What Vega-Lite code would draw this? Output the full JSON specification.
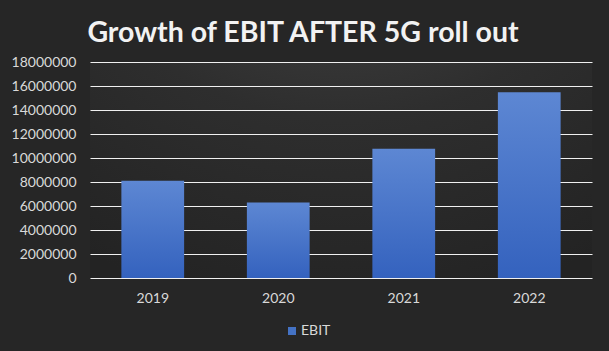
{
  "$schema": "https://vega.github.io/schema/vega-lite/v6.json",
  "autosize": "none",
  "width": 502,
  "height": 216,
  "padding": {"left": 90, "top": 62, "right": 17, "bottom": 73},
  "background": "#262626",
  "title": {
    "text": "Growth of EBIT AFTER 5G roll out",
    "font": "Lato",
    "fontSize": 28.5,
    "fontWeight": "bold",
    "color": "#f2f2f2",
    "anchor": "middle",
    "baseline": "alphabetic",
    "offset": 20,
    "dx": -38,
    "dy": 35
  },
  "data": {
    "values": [
      {"year": "2019", "ebit": 8100000, "series": "EBIT"},
      {"year": "2020", "ebit": 6300000, "series": "EBIT"},
      {"year": "2021", "ebit": 10780000, "series": "EBIT"},
      {"year": "2022", "ebit": 15470000, "series": "EBIT"}
    ]
  },
  "encoding": {
    "x": {
      "field": "year",
      "type": "nominal",
      "scale": {"paddingInner": 0.5, "paddingOuter": 0.25},
      "axis": {
        "title": null,
        "labelAngle": 0,
        "domain": false,
        "ticks": false,
        "labelPadding": 13,
        "labelFont": "Lato",
        "labelFontSize": 14,
        "labelColor": "#d9d9d9"
      }
    },
    "y": {
      "field": "ebit",
      "type": "quantitative",
      "scale": {"domain": [0, 18000000], "nice": false},
      "axis": {
        "title": null,
        "values": [0, 2000000, 4000000, 6000000, 8000000, 10000000, 12000000, 14000000, 16000000, 18000000],
        "format": "d",
        "domain": false,
        "ticks": false,
        "labelPadding": 14,
        "labelFont": "Lato",
        "labelFontSize": 14,
        "labelColor": "#d9d9d9",
        "grid": true,
        "gridColor": "#f0f0f0",
        "gridWidth": 1,
        "gridOpacity": 1
      }
    }
  },
  "layer": [
    {
      "mark": {
        "type": "bar",
        "fill": {
          "gradient": "linear",
          "x1": 0, "y1": 0, "x2": 0, "y2": 1,
          "stops": [
            {"offset": 0, "color": "#5d87d3"},
            {"offset": 1, "color": "#3462be"}
          ]
        }
      }
    },
    {
      "mark": {"type": "bar", "opacity": 0},
      "encoding": {
        "color": {
          "field": "series",
          "type": "nominal",
          "scale": {"range": ["#4472c4"]},
          "legend": {
            "title": null,
            "orient": "none",
            "legendX": 195,
            "legendY": 262,
            "symbolType": "square",
            "symbolSize": 64,
            "symbolOpacity": 1,
            "symbolStrokeWidth": 0,
            "labelFont": "Lato",
            "labelFontSize": 14,
            "labelColor": "#d9d9d9",
            "labelOffset": 2,
            "padding": 0
          }
        }
      }
    }
  ],
  "config": {
    "view": {
      "stroke": null,
      "fill": {
        "gradient": "radial",
        "x1": 0.5, "y1": -0.2, "r1": 0,
        "x2": 0.5, "y2": -0.2, "r2": 1,
        "stops": [
          {"offset": 0, "color": "#505050"},
          {"offset": 0.6, "color": "#2e2e2e"},
          {"offset": 1, "color": "#232323"}
        ]
      }
    }
  }
}
